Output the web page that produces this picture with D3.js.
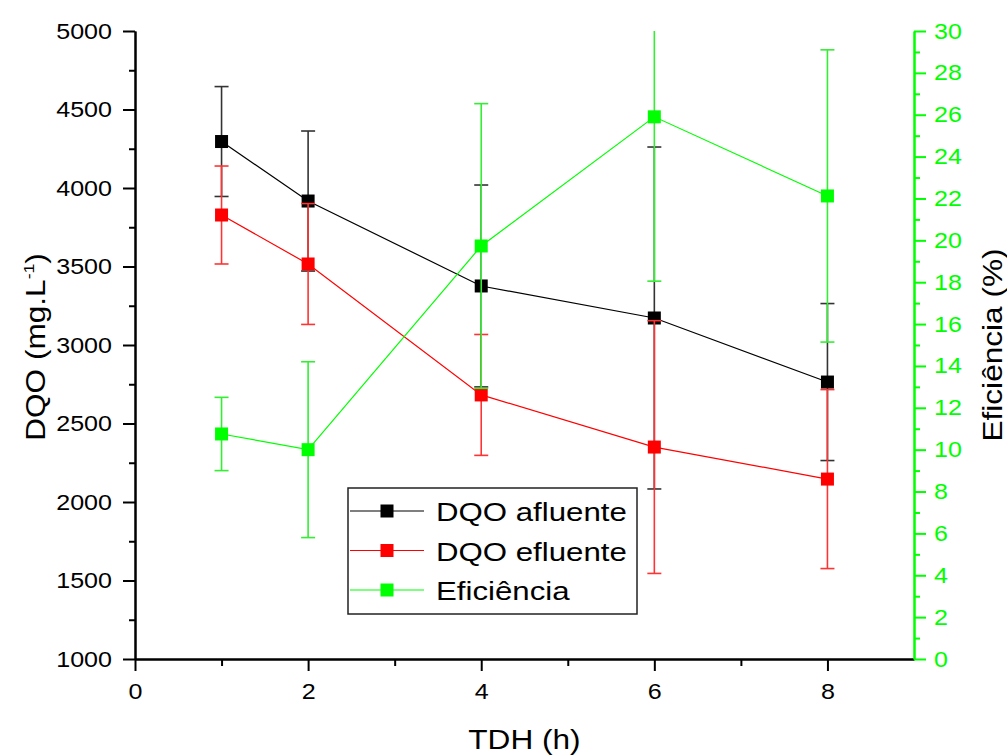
<!DOCTYPE html>
<html>
<head>
<meta charset="utf-8">
<script src="https://cdn.jsdelivr.net/npm/d3@7"></script>
<style>
  body { margin: 0; background: #fff; }
  text { font-family: Arial, "Liberation Sans", sans-serif; }
</style>
</head>
<body>
<div id="chart"></div>
<script>
// values
const tdh = [1, 2, 4, 6, 8];
const afluente = [4296, 3917, 3376, 3172, 2764];
const afluenteErr = [350, 446, 643, 1089, 500];
const efluente = [3828, 3516, 2682, 2350, 2146];
const efluenteErr = [312, 385, 385, 805, 570];
const eficiencia = [10.75, 10.0, 19.73, 25.9, 22.12];
const eficienciaErr = [1.75, 4.2, 6.8, 7.85, 6.98];

const xTicks = [0, 2, 4, 6, 8];
const xMinor = [1, 3, 5, 7];
const yTicks = [1000, 1500, 2000, 2500, 3000, 3500, 4000, 4500, 5000];
const yMinor = [1250, 1750, 2250, 2750, 3250, 3750, 4250, 4750];
const y2Ticks = d3.range(0, 31, 2);
const y2Minor = d3.range(1, 30, 2);

const W = 1007, H = 756;
const margin = {top: 31, right: 93, bottom: 97, left: 135};
const width = W - margin.left - margin.right;
const height = H - margin.top - margin.bottom;
const GREEN = "#00ff00";

const svg = d3.select("#chart").append("svg")
    .attr("width", W).attr("height", H);
const g = svg.append("g")
    .attr("transform", `translate(${margin.left},${margin.top})`);

let x = d3.scaleLinear().domain([0, 9]).range([0, width]);
let y = d3.scaleLinear().domain([1000, 5000]).range([height, 0]);
let y2 = d3.scaleLinear().domain([0, 30]).range([height, 0]);

g.append("clipPath").attr("id", "clip")
  .append("rect").attr("x", 0).attr("y", 0).attr("width", width).attr("height", height);

// axes
function styleAxis(sel, color) {
  sel.selectAll("path").attr("stroke", color).attr("stroke-width", 2);
  sel.selectAll("line").attr("stroke", color).attr("stroke-width", 2);
  sel.selectAll("text").attr("fill", color).style("font-size", "22px");
}
const fmt = d3.format("d");

g.append("g").attr("transform", `translate(0,${height})`)
  .call(d3.axisBottom(x).tickValues(xMinor).tickSize(7).tickSizeOuter(0).tickFormat(""))
  .call(s => styleAxis(s, "#000"));
g.append("g").attr("class", "tick-labels").attr("transform", `translate(0,${height})`)
  .call(d3.axisBottom(x).tickValues(xTicks).tickSize(12).tickPadding(12).tickSizeOuter(0).tickFormat(fmt))
  .call(s => styleAxis(s, "#000"));

g.append("g")
  .call(d3.axisLeft(y).tickValues(yMinor).tickSize(6).tickSizeOuter(0).tickFormat(""))
  .call(s => styleAxis(s, "#000"));
g.append("g").attr("class", "tick-labels")
  .call(d3.axisLeft(y).tickValues(yTicks).tickSize(12).tickPadding(11).tickSizeOuter(0).tickFormat(fmt))
  .call(s => styleAxis(s, "#000"));

g.append("g").attr("transform", `translate(${width},0)`)
  .call(d3.axisRight(y2).tickValues(y2Minor).tickSize(6).tickSizeOuter(0).tickFormat(""))
  .call(s => styleAxis(s, GREEN));
g.append("g").attr("class", "tick-labels").attr("transform", `translate(${width},0)`)
  .call(d3.axisRight(y2).tickValues(y2Ticks).tickSize(12).tickPadding(8).tickSizeOuter(0).tickFormat(fmt))
  .call(s => styleAxis(s, GREEN));

// series
const series = [
  {name: "DQO afluente", vals: afluente, err: afluenteErr, color: "#000", errColor: "#333", scale: y},
  {name: "DQO efluente", vals: efluente, err: efluenteErr, color: "#ff0000", errColor: "#ff3333", scale: y},
  {name: "Eficiência", vals: eficiencia, err: eficienciaErr, color: GREEN, errColor: "#33ee33", scale: y2}
];

const plot = g.append("g").attr("clip-path", "url(#clip)");
const ms = 13, cap = 7;

series.forEach(s => {
  const pts = tdh.map((t, i) => ({t: t, v: s.vals[i], e: s.err[i]}));
  const sg = plot.append("g");
  sg.append("path").datum(pts)
    .attr("fill", "none").attr("stroke", s.color).attr("stroke-width", 1.2)
    .attr("d", d3.line().x(d => x(d.t)).y(d => s.scale(d.v)));

  const eb = sg.selectAll(".eb").data(pts).enter().append("g")
    .attr("stroke", s.errColor).attr("stroke-width", 1.6);
  eb.append("line")
    .attr("x1", d => x(d.t)).attr("x2", d => x(d.t))
    .attr("y1", d => s.scale(d.v - d.e)).attr("y2", d => s.scale(d.v + d.e));
  eb.append("line")
    .attr("x1", d => x(d.t) - cap).attr("x2", d => x(d.t) + cap)
    .attr("y1", d => s.scale(d.v + d.e)).attr("y2", d => s.scale(d.v + d.e));
  eb.append("line")
    .attr("x1", d => x(d.t) - cap).attr("x2", d => x(d.t) + cap)
    .attr("y1", d => s.scale(d.v - d.e)).attr("y2", d => s.scale(d.v - d.e));

  sg.selectAll(".m").data(pts).enter().append("rect")
    .attr("x", d => x(d.t) - ms / 2).attr("y", d => s.scale(d.v) - ms / 2)
    .attr("width", ms).attr("height", ms).attr("fill", s.color);
});

// axis titles
svg.append("text").attr("class", "title")
  .attr("x", margin.left + width / 2).attr("y", 749)
  .attr("text-anchor", "middle").style("font-size", "27px")
  .text("TDH (h)");

let yt = svg.append("text").attr("class", "title")
  .attr("transform", "translate(45,347) rotate(-90)")
  .attr("text-anchor", "middle").style("font-size", "27px");
yt.append("tspan").text("DQO (mg.L");
yt.append("tspan").attr("dy", -11).style("font-size", "15px").text("-1");
yt.append("tspan").attr("dy", 11).text(")");

svg.append("text").attr("class", "title")
  .attr("transform", "translate(1002,345) rotate(-90)")
  .attr("text-anchor", "middle").style("font-size", "27px")
  .text("Eficiência (%)");

// legend
const lg = svg.append("g").attr("transform", "translate(348,488)");
lg.append("rect").attr("width", 289).attr("height", 126)
  .attr("fill", "#fff").attr("stroke", "#222").attr("stroke-width", 1.5);
series.forEach((s, i) => {
  const cy = 23 + i * 39.5;
  lg.append("line").attr("x1", 2).attr("x2", 76).attr("y1", cy).attr("y2", cy)
    .attr("stroke", s.color).attr("stroke-width", 1.2);
  lg.append("rect").attr("x", 39 - 6.5).attr("y", cy - 6.5).attr("width", 13).attr("height", 13)
    .attr("fill", s.color);
  lg.append("text").attr("class", "leg").attr("x", 88).attr("y", cy + 10)
    .style("font-size", "26px").attr("fill", "#000").text(s.name);
});

// the original renders text wider than Arial; stretch to match
function stretch(sel, k) {
  sel.each(function() {
    const len = this.getComputedTextLength();
    if (len > 0) d3.select(this).attr("textLength", len * k).attr("lengthAdjust", "spacingAndGlyphs");
  });
}
stretch(svg.selectAll(".tick-labels text"), 1.14);
stretch(svg.selectAll("text.title"), 1.17);
stretch(svg.selectAll("text.leg"), 1.2);
</script>
</body>
</html>
